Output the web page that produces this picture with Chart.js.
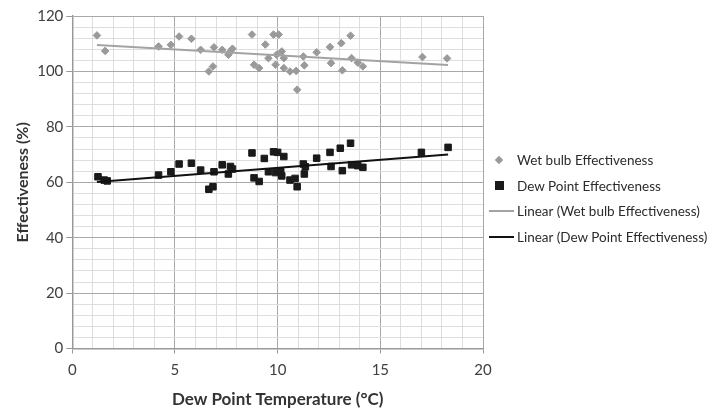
<!DOCTYPE html>
<html lang="en">
<head>
    <meta charset="UTF-8" />
    <title>Effectiveness vs Dew Point Temperature</title>
    <script src="https://cdn.jsdelivr.net/npm/chart.js"></script>
    <style>
        body { margin: 0; background: #fff; font-family: Lato, "Open Sans", sans-serif; }
        #wrap { position: relative; width: 723px; height: 410px; }
        #legend { position: absolute; left: 486px; top: 147px; font-size: 13.5px; color: #2b2b2b; }
        .item { display: flex; align-items: center; height: 25.7px; }
        .mark { width: 28px; height: 12px; position: relative; margin-right: 3px; }
        .mark span { position: absolute; display: block; }
    </style>
</head>
<body>

<div id="wrap">
    <canvas id="chart"></canvas>
    <div id="legend"></div>
</div>

<script>
    // Wet bulb effectiveness (gray diamonds)
    const wetX = [1.2, 1.6, 4.2, 4.8, 5.2, 5.8, 6.25, 6.65, 6.85, 6.9, 7.3, 7.6, 7.7, 7.8, 8.75, 8.85, 9.1, 9.4, 9.55, 9.8, 9.9, 9.95, 10.05, 10.2, 10.3, 10.3, 10.6, 10.9, 10.95, 11.25, 11.3, 11.9, 12.55, 12.6, 13.1, 13.15, 13.55, 13.6, 13.9, 14.15, 17.05, 18.25];
    const wetY = [113.0, 107.4, 109.0, 109.6, 112.6, 111.8, 107.8, 100.0, 101.8, 108.7, 107.8, 106.0, 107.2, 108.2, 113.3, 102.4, 101.2, 109.7, 104.8, 113.3, 102.4, 106.0, 113.3, 107.2, 104.8, 101.2, 100.0, 100.2, 93.4, 105.4, 102.2, 106.9, 108.8, 103.0, 110.2, 100.4, 112.9, 104.8, 103.2, 101.8, 105.2, 104.7];

    // Dew point effectiveness (black squares)
    const dewX = [1.25, 1.55, 1.7, 4.2, 4.8, 5.2, 5.8, 6.25, 6.65, 6.85, 6.9, 7.3, 7.6, 7.7, 7.8, 8.75, 8.85, 9.1, 9.35, 9.55, 9.8, 9.9, 10.0, 10.15, 10.2, 10.3, 10.6, 10.85, 10.95, 11.25, 11.3, 11.35, 11.9, 12.55, 12.6, 13.05, 13.15, 13.55, 13.6, 13.9, 14.15, 17.0, 18.3];
    const dewY = [62.0, 60.8, 60.5, 62.6, 63.8, 66.6, 66.9, 64.4, 57.5, 58.4, 63.8, 66.3, 63.0, 65.7, 64.8, 70.6, 61.6, 60.3, 68.6, 63.8, 71.0, 63.5, 70.8, 63.8, 62.3, 69.3, 60.8, 61.4, 58.4, 66.6, 63.0, 65.6, 68.7, 70.8, 65.7, 72.3, 64.2, 74.1, 66.3, 66.0, 65.4, 70.8, 72.6];

    // Linear trend lines, end points
    const wetTrendX = [1.2, 18.3];
    const wetTrendY = [109.5, 102.3];
    const dewTrendX = [1.2, 18.3];
    const dewTrendY = [60.1, 70.0];

    const seriesLabels = ['Wet bulb Effectiveness', 'Dew Point Effectiveness',
        'Linear (Wet bulb Effectiveness)', 'Linear (Dew Point Effectiveness)'];

    const toPoints = (xs, ys) => xs.map((x, i) => ({ x: x, y: ys[i] }));

    const fontFamily = 'Lato, "Open Sans", sans-serif';

    const chart = new Chart(document.getElementById('chart'), {
        type: 'scatter',
        data: {
            datasets: [
                {
                    label: seriesLabels[0],
                    data: toPoints(wetX, wetY),
                    pointStyle: 'rectRot',
                    pointRadius: 3.8,
                    backgroundColor: '#9a9a9a',
                    borderColor: '#9a9a9a',
                    order: 2
                },
                {
                    label: seriesLabels[1],
                    data: toPoints(dewX, dewY),
                    pointStyle: 'rect',
                    pointRadius: 4.6,
                    backgroundColor: '#1a1a1a',
                    borderColor: '#1a1a1a',
                    order: 2
                },
                {
                    label: seriesLabels[2],
                    data: toPoints(wetTrendX, wetTrendY),
                    showLine: true,
                    pointRadius: 0,
                    borderColor: '#a3a3a3',
                    borderWidth: 2,
                    order: 0
                },
                {
                    label: seriesLabels[3],
                    data: toPoints(dewTrendX, dewTrendY),
                    showLine: true,
                    pointRadius: 0,
                    borderColor: '#111',
                    borderWidth: 2,
                    order: 0
                }
            ]
        },
        options: {
            responsive: true,
            maintainAspectRatio: false,
            animation: false,
            layout: { padding: { top: 16, right: 240, bottom: 0, left: 12 } },
            plugins: {
                legend: { display: false },
                tooltip: { enabled: false }
            },
            scales: {
                x: {
                    type: 'linear',
                    min: 0,
                    max: 20,
                    ticks: {
                        stepSize: 1,
                        autoSkip: false,
                        maxRotation: 0,
                        color: '#404040',
                        font: { family: fontFamily, size: 15 },
                        padding: 8,
                        callback: v => (v % 5 === 0 ? v : '')
                    },
                    grid: {
                        color: c => (c.tick.value % 5 === 0 ? '#a8a8a8' : '#dedede'),
                        tickColor: c => (c.tick.value % 5 === 0 ? '#999' : 'rgba(0,0,0,0)'),
                        tickLength: 5
                    },
                    border: { color: '#999', width: 1.5 },
                    title: {
                        display: true,
                        text: 'Dew Point Temperature (°C)',
                        color: '#333',
                        font: { family: fontFamily, size: 17, weight: 'bold' },
                        padding: { top: 2, bottom: 0 }
                    }
                },
                y: {
                    min: 0,
                    max: 120,
                    ticks: {
                        stepSize: 4,
                        autoSkip: false,
                        color: '#404040',
                        font: { family: fontFamily, size: 15 },
                        padding: 3,
                        callback: v => (v % 20 === 0 ? v : '')
                    },
                    grid: {
                        color: c => (c.tick.value % 20 === 0 ? '#a8a8a8' : '#dedede'),
                        tickColor: c => (c.tick.value % 20 === 0 ? '#999' : 'rgba(0,0,0,0)'),
                        tickLength: 6
                    },
                    border: { color: '#999', width: 1.5 },
                    title: {
                        display: true,
                        text: 'Effectiveness (%)',
                        color: '#333',
                        font: { family: fontFamily, size: 16, weight: 'bold' },
                        padding: { top: 1, bottom: 2 }
                    }
                }
            }
        }
    });

    // legend on the right, built from the datasets
    const legend = document.getElementById('legend');
    chart.data.datasets.forEach((ds, i) => {
        const item = document.createElement('div');
        item.className = 'item';
        let mark = '';
        if (i === 0) {
            mark = `<span style="left:10px;top:3px;width:6px;height:6px;background:${ds.backgroundColor};transform:rotate(45deg)"></span>`;
        } else if (i === 1) {
            mark = `<span style="left:9px;top:1px;width:9px;height:9px;background:${ds.backgroundColor}"></span>`;
        } else {
            mark = `<span style="left:3px;top:5px;width:25px;height:2px;background:${ds.borderColor}"></span>`;
        }
        item.innerHTML = `<div class="mark">${mark}</div><div>${ds.label}</div>`;
        legend.appendChild(item);
    });
</script>
</body>
</html>
